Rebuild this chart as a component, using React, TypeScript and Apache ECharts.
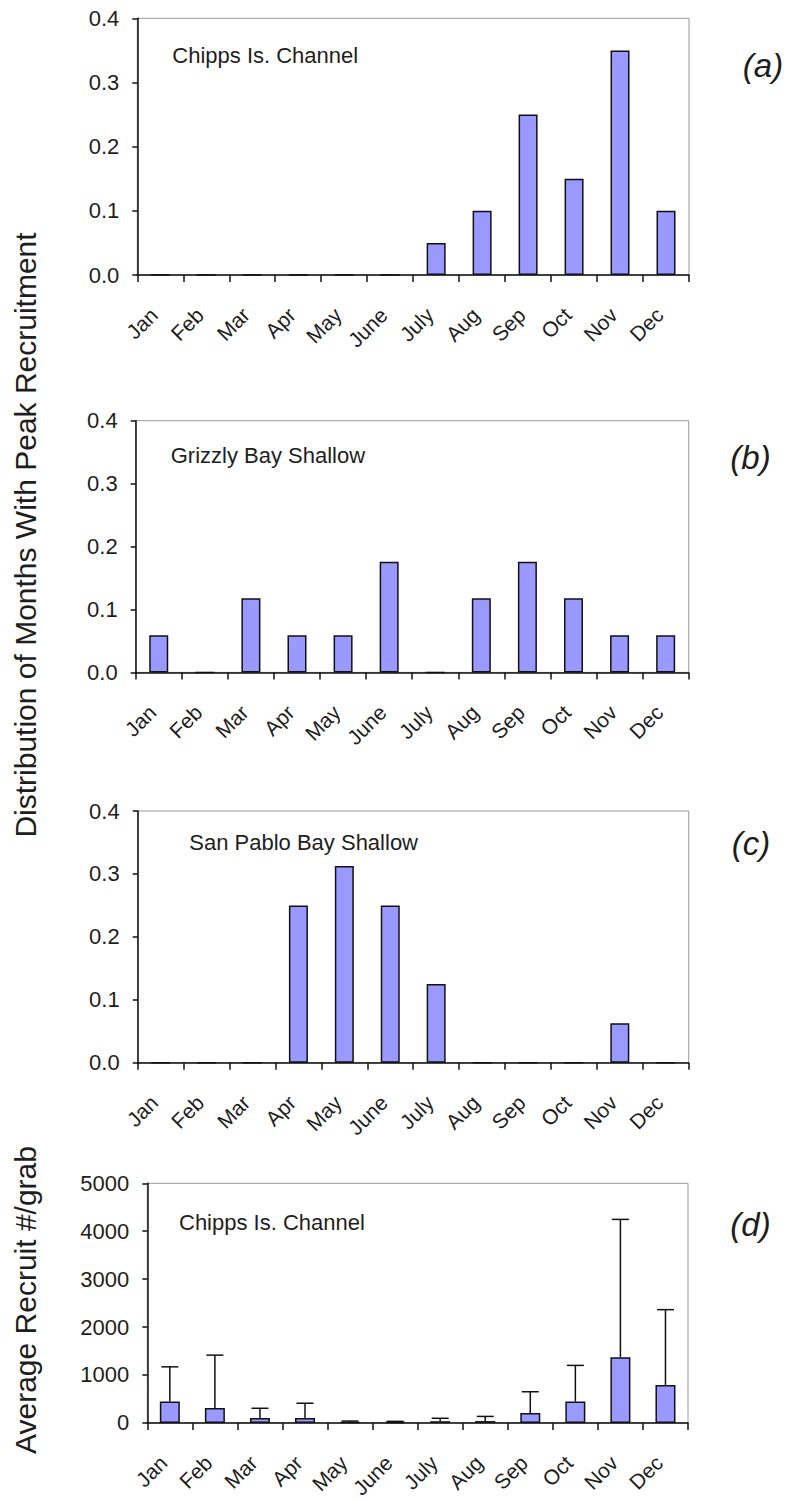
import React, { useEffect, useRef } from "react";
import * as echarts from "echarts";

const months = ["Jan", "Feb", "Mar", "Apr", "May", "June", "July", "Aug", "Sep", "Oct", "Nov", "Dec"];
const distTicks = [0, 0.1, 0.2, 0.3, 0.4];
const recruitTicks = [0, 1000, 2000, 3000, 4000, 5000];

const chippsDist = [0, 0, 0, 0, 0, 0, 0.05, 0.1, 0.25, 0.15, 0.35, 0.1];
const grizzlyDist = [0.059, 0, 0.118, 0.059, 0.059, 0.176, 0, 0.118, 0.176, 0.118, 0.059, 0.059];
const sanPabloDist = [0, 0, 0, 0.25, 0.3125, 0.25, 0.125, 0, 0, 0, 0.0625, 0];
const recruitMean = [445, 310, 103, 103, 18, 15, 35, 38, 205, 446, 1370, 789];
const recruitUpper = [1170, 1414, 305, 410, 38, 32, 96, 135, 650, 1200, 4247, 2363];

const panelNames = ["Chipps Is. Channel", "Grizzly Bay Shallow", "San Pablo Bay Shallow", "Chipps Is. Channel"];
const panelTags = ["(a)", "(b)", "(c)", "(d)"];

const FONT = "Liberation Sans, Arial, sans-serif";
const TEXT = "#1e1e1e";
const BAR = "#9999FF";

export default function App() {
  const ref = useRef<HTMLDivElement>(null);

  useEffect(() => {
    if (!ref.current) return;
    const chart = echarts.init(ref.current, null, { renderer: "svg" });

    const grids = [
      { left: 137.3, top: 18.3, width: 551.7, height: 256.7 },
      { left: 135.7, top: 420.7, width: 553, height: 251.7 },
      { left: 137.7, top: 811, width: 551, height: 251.7 },
      { left: 147.3, top: 1183.3, width: 540.7, height: 243.4 },
    ];

    const xAxes = grids.map((_, i) => ({
      type: "category",
      gridIndex: i,
      data: months,
      boundaryGap: true,
      axisLine: { show: true, lineStyle: { color: "#111", width: 1.5 } },
      axisTick: { show: true, alignWithLabel: false, interval: 0, length: 7, lineStyle: { color: "#111", width: 1.5 } },
      axisLabel: {
        interval: 0,
        rotate: 45,
        margin: 30,
        fontSize: 21,
        fontFamily: FONT,
        color: TEXT,
        padding: [0, 9, 17, 0],
      },
      splitLine: { show: false },
    }));

    const yAxes = grids.map((_, i) => {
      const isD = i === 3;
      const ticks = isD ? recruitTicks : distTicks;
      return {
        type: "value",
        gridIndex: i,
        min: ticks[0],
        max: ticks[ticks.length - 1],
        interval: ticks[1] - ticks[0],
        axisLine: { show: true, lineStyle: { color: "#111", width: 1.5 } },
        axisTick: { show: true, length: 5, lineStyle: { color: "#111", width: 1.5 } },
        axisLabel: {
          margin: 18,
          fontSize: 22,
          fontFamily: FONT,
          color: TEXT,
          formatter: (v: number) => (isD ? String(Math.round(v)) : v.toFixed(1)),
        },
        splitLine: { show: false },
      };
    });

    const barStyle = { color: BAR, borderColor: "#111", borderWidth: 1.5 };
    const distData = [chippsDist, grizzlyDist, sanPabloDist];

    const series: any[] = distData.map((d, i) => ({
      type: "bar",
      xAxisIndex: i,
      yAxisIndex: i,
      data: d,
      barWidth: 19,
      itemStyle: barStyle,
      silent: true,
    }));

    series.push({
      type: "bar",
      xAxisIndex: 3,
      yAxisIndex: 3,
      data: recruitMean,
      barWidth: 20,
      itemStyle: barStyle,
      silent: true,
    });

    series.push({
      type: "custom",
      xAxisIndex: 3,
      yAxisIndex: 3,
      silent: true,
      data: months.map((_, i) => [i, recruitMean[i], recruitUpper[i]]),
      encode: { x: 0, y: [1, 2] },
      renderItem: (params: any, api: any) => {
        const x = api.value(0);
        const p0 = api.coord([x, api.value(1)]);
        const p1 = api.coord([x, api.value(2)]);
        const half = 8.5;
        const st = { stroke: "#111", lineWidth: 1.5 };
        return {
          type: "group",
          children: [
            { type: "line", shape: { x1: p0[0], y1: p0[1], x2: p1[0], y2: p1[1] }, style: st },
            { type: "line", shape: { x1: p1[0] - half, y1: p1[1], x2: p1[0] + half, y2: p1[1] }, style: st },
          ],
        };
      },
    });

    const namePos = [
      [172.3, 55],
      [170.7, 455],
      [189.3, 842],
      [179, 1222],
    ];
    const tagPos = [
      [763, 65],
      [750.5, 457],
      [751, 843],
      [750.5, 1224],
    ];

    const graphics: any[] = [];
    panelNames.forEach((n, i) => {
      graphics.push({
        type: "text",
        x: namePos[i][0],
        y: namePos[i][1],
        style: { text: n, fontSize: 22, fontFamily: FONT, fill: TEXT, textAlign: "left", textVerticalAlign: "middle" },
        silent: true,
      });
    });
    panelTags.forEach((t, i) => {
      graphics.push({
        type: "text",
        x: tagPos[i][0],
        y: tagPos[i][1],
        style: {
          text: t,
          fontSize: 33,
          fontStyle: "italic",
          fontFamily: FONT,
          fill: TEXT,
          textAlign: "center",
          textVerticalAlign: "middle",
        },
        silent: true,
      });
    });
    graphics.push({
      type: "text",
      x: 25,
      y: 535,
      rotation: Math.PI / 2,
      style: {
        text: "Distribution of Months With Peak Recruitment",
        fontSize: 30,
        fontFamily: FONT,
        fill: TEXT,
        textAlign: "center",
        textVerticalAlign: "middle",
      },
      silent: true,
    });
    graphics.push({
      type: "text",
      x: 25,
      y: 1300,
      rotation: Math.PI / 2,
      style: {
        text: "Average Recruit #/grab",
        fontSize: 30,
        fontFamily: FONT,
        fill: TEXT,
        textAlign: "center",
        textVerticalAlign: "middle",
      },
      silent: true,
    });

    chart.setOption({
      animation: false,
      backgroundColor: "#ffffff",
      grid: grids.map((g) => ({
        ...g,
        show: true,
        borderColor: "#999",
        borderWidth: 1,
        backgroundColor: "transparent",
        containLabel: false,
      })),
      xAxis: xAxes,
      yAxis: yAxes,
      series,
      graphic: graphics,
    });

    return () => chart.dispose();
  }, []);

  return (
    <div
      ref={ref}
      style={{ position: "absolute", left: 0, top: 0, width: 788, height: 1501 }}
    />
  );
}
